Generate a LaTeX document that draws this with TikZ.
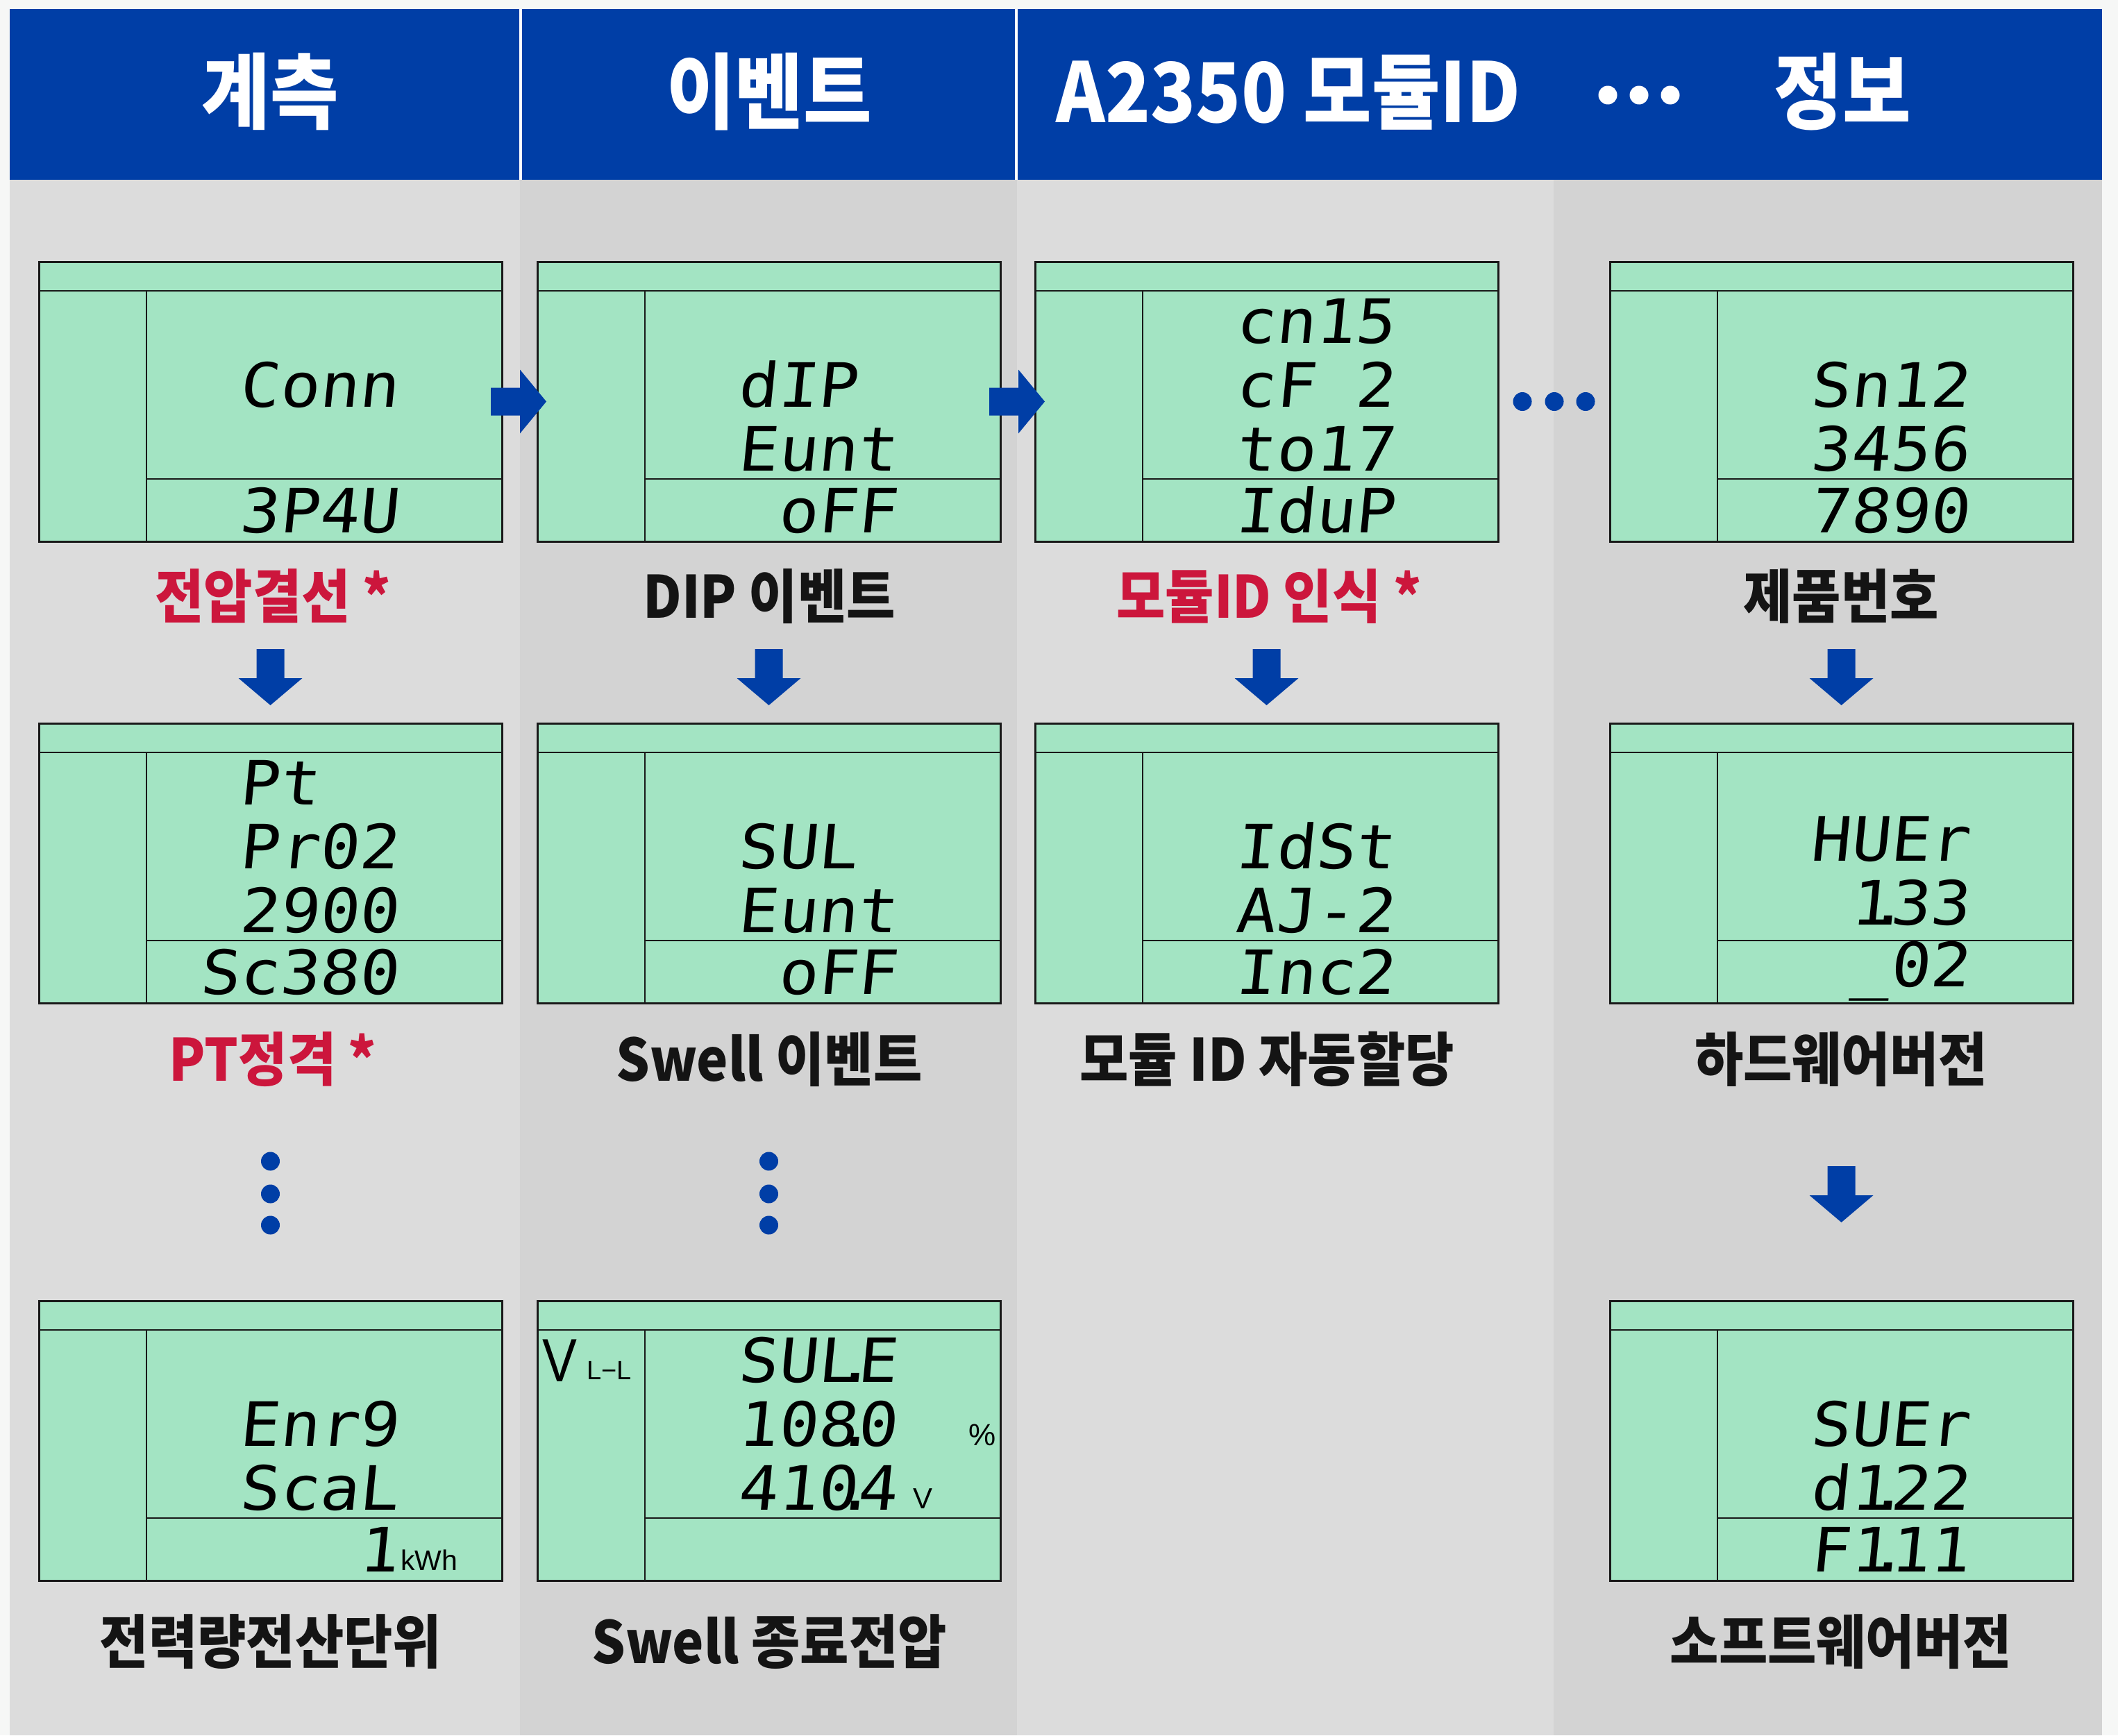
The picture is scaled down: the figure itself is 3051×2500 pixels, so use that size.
\documentclass[tikz,border=0pt]{standalone}
\usepackage{fontspec}
\usetikzlibrary{calc}
\newfontfamily\krfont[FakeStretch=0.91]{Noto Sans CJK KR}
\newfontfamily\hdrfont[FakeStretch=0.9]{Noto Sans CJK KR}
\newfontfamily\segfont[FakeStretch=1.08,FakeSlant=0.1]{DejaVu Sans Mono}
\newfontfamily\unitfont{Liberation Sans}
\newfontfamily\unitfontc[FakeStretch=0.85]{Liberation Sans}
\definecolor{hdrblue}{RGB}{0,62,166}
\definecolor{lcdgreen}{RGB}{163,228,195}
\definecolor{lblred}{RGB}{204,22,60}
\definecolor{colA}{RGB}{220,220,220}
\definecolor{colB}{RGB}{211,211,211}
\definecolor{pagebg}{RGB}{246,247,246}
\definecolor{lblblack}{RGB}{20,20,20}
\newcommand{\lcdpt}{\makebox[0pt]{\kern-0.08em.}}
\tikzset{
  lcdbox/.style={draw=black!90, line width=3pt, fill=lcdgreen, minimum width=667pt, minimum height=403pt, inner sep=0pt, outer sep=0pt, anchor=north west},
  lcdline/.style={draw=black!90, line width=2.6pt},
  segtext/.style={font=\segfont\fontsize{88}{88}\selectfont, text=black, inner sep=0pt, text height=64pt, text depth=0pt, anchor=base east},
  unittext/.style={font=\unitfont\fontsize{41}{43}\selectfont, text=black, inner sep=0pt, anchor=base west},
  lbl/.style={font=\krfont\bfseries\fontsize{84}{90}\selectfont, text=lblblack, inner sep=0pt, anchor=base},
  redlbl/.style={lbl, text=lblred},
  hdr/.style={font=\hdrfont\bfseries\fontsize{119}{125}\selectfont, text=white, inner sep=0pt, anchor=base},
  blk/.style={fill=hdrblue},
  dot/.style={circle, fill=hdrblue, minimum size=27pt, inner sep=0pt},
  hdot/.style={circle, fill=white, minimum size=27pt, inner sep=0pt}
}
\newcommand{\lcdpanel}[3]{%
  \node[lcdbox] (#1) at (#2,#3) {};
  \draw[lcdline] ($(#1.north west)+(0,42)$) -- ($(#1.north east)+(0,42)$);
  \draw[lcdline] ($(#1.north west)+(155,42)$) -- ($(#1.south west)+(155,0)$);
  \draw[lcdline] ($(#1.south west)+(155,-90)$) -- ($(#1.south east)+(0,-90)$);
}
\newcommand{\lcdtext}[4]{\node[segtext] (#1) at ($(#2.north west)+(518,#3)$) {#4};}
\newcommand{\blkrarrow}[1]{\fill[blk] ($(#1)+(-16,-20)$) -- ($(#1)+(26,-20)$) -- ($(#1)+(26,-46)$) -- ($(#1)+(64,0)$) -- ($(#1)+(26,46)$) -- ($(#1)+(26,20)$) -- ($(#1)+(-16,20)$) -- cycle;}
\newcommand{\blkdarrow}[1]{\fill[blk] ($(#1)+(-20,0)$) -- ($(#1)+(20,0)$) -- ($(#1)+(20,42)$) -- ($(#1)+(46,42)$) -- ($(#1)+(0,81)$) -- ($(#1)+(-46,42)$) -- ($(#1)+(-20,42)$) -- cycle;}
\begin{document}
\begin{tikzpicture}[x=1pt,y=-1pt]
\useasboundingbox (0,0) rectangle (3051,2500);
\fill[pagebg] (0,0) rectangle (3051,2500);
% columns
\fill[colA] (14,259) rectangle (749,2500);
\fill[colB] (749,259) rectangle (1465,2500);
\fill[colA] (1465,259) rectangle (2238,2500);
\fill[colB] (2238,259) rectangle (3028,2500);
% header
\fill[hdrblue] (14,13) rectangle (3028,259);
\fill[white] (748,13) rectangle (752,259);
\fill[white] (1462,13) rectangle (1466,259);
\node[hdr] (h1) at (389,176) {계측};
\node[hdr] (h2) at (1108,176) {이벤트};
\node[hdr] (h3) at (1856,176) {A2350 모듈ID};
\node[hdot] (hd1) at (2316,137) {};
\node[hdot] (hd2) at (2361,137) {};
\node[hdot] (hd3) at (2406,137) {};
\node[hdr] (h4) at (2654,176) {정보};
% row 1 panels
\lcdpanel{p11}{56}{377}
\lcdtext{t11b}{p11}{209}{Conn}
\lcdtext{t11c}{p11}{390}{3P4U}
\lcdpanel{p21}{774}{377}
\lcdtext{t21b}{p21}{209}{dIP\hphantom{0}}
\lcdtext{t21c}{p21}{301}{Eunt}
\lcdtext{t21d}{p21}{390}{oFF}
\lcdpanel{p31}{1491}{377}
\lcdtext{t31a}{p31}{117}{cn15}
\lcdtext{t31b}{p31}{209}{cF 2}
\lcdtext{t31c}{p31}{301}{to17}
\lcdtext{t31d}{p31}{390}{IduP}
\lcdpanel{p41}{2319}{377}
\lcdtext{t41b}{p41}{209}{Sn12}
\lcdtext{t41c}{p41}{301}{3456}
\lcdtext{t41d}{p41}{390}{7890}
% row 2 panels
\lcdpanel{p12}{56}{1042}
\lcdtext{t12a}{p12}{117}{Pt\hphantom{00}}
\lcdtext{t12b}{p12}{209}{Pr02}
\lcdtext{t12c}{p12}{301}{2900}
\lcdtext{t12d}{p12}{390}{Sc380}
\lcdpanel{p22}{774}{1042}
\lcdtext{t22b}{p22}{209}{SUL\hphantom{0}}
\lcdtext{t22c}{p22}{301}{Eunt}
\lcdtext{t22d}{p22}{390}{oFF}
\lcdpanel{p32}{1491}{1042}
\lcdtext{t32b}{p32}{209}{IdSt}
\lcdtext{t32c}{p32}{301}{AJ-2}
\lcdtext{t32d}{p32}{390}{Inc2}
\lcdpanel{p42}{2319}{1042}
\lcdtext{t42b}{p42}{198}{HUEr}
\lcdtext{t42c}{p42}{290}{1\lcdpt33}
\lcdtext{t42d}{p42}{379}{\_02}
% row 3 panels
\lcdpanel{p13}{56}{1874}
\lcdtext{t13b}{p13}{209}{Enr9}
\lcdtext{t13c}{p13}{301}{ScaL}
\lcdtext{t13d}{p13}{390}{1}
\node[unittext] (u13) at ($(p13.north west)+(521,388)$) {kWh};
\lcdpanel{p23}{774}{1874}
\lcdtext{t23a}{p23}{117}{SUL\lcdpt E}
\lcdtext{t23b}{p23}{209}{108\lcdpt0}
\lcdtext{t23c}{p23}{301}{410\lcdpt4}
\node[unittext, font=\unitfont\fontsize{44}{46}\selectfont] (u23a) at ($(p23.north west)+(621,208)$) {\%};
\node[unittext, font=\unitfont\fontsize{42}{44}\selectfont] (u23b) at ($(p23.north west)+(541,299)$) {V};
\node[unittext, font=\unitfontc\fontsize{88}{90}\selectfont] (u23c) at ($(p23.north west)+(7,116)$) {V};
\node[unittext, font=\unitfont\fontsize{38}{40}\selectfont] (u23d) at ($(p23.north west)+(71,113)$) {L−L};
\lcdpanel{p43}{2319}{1874}
\lcdtext{t43b}{p43}{209}{SUEr}
\lcdtext{t43c}{p43}{301}{d1\lcdpt22}
\lcdtext{t43d}{p43}{390}{F1\lcdpt11}
% labels
\node[redlbl] (l11) at (393,890) {전압결선 *};
\node[lbl] (l21) at (1108,890) {DIP 이벤트};
\node[redlbl] (l31) at (1828,890) {모듈ID 인식 *};
\node[lbl] (l41) at (2652,890) {제품번호};
\node[redlbl] (l12) at (393,1557) {PT정격 *};
\node[lbl] (l22) at (1108,1557) {Swell 이벤트};
\node[lbl] (l32) at (1825,1557) {모듈 ID 자동할당};
\node[lbl] (l42) at (2652,1557) {하드웨어버전};
\node[lbl] (l13) at (390,2396) {전력량전산단위};
\node[lbl] (l23) at (1108,2396) {Swell 종료전압};
\node[lbl] (l43) at (2652,2396) {소프트웨어버전};
% arrows
\coordinate (ra1) at (p11.east);
\coordinate (ra2) at (p21.east);
\blkrarrow{ra1}
\blkrarrow{ra2}
\coordinate (da1) at ($(p11.south)+(0,155)$);
\coordinate (da2) at ($(p21.south)+(0,155)$);
\coordinate (da3) at ($(p31.south)+(0,155)$);
\coordinate (da4) at ($(p41.south)+(0,155)$);
\coordinate (da5) at ($(p42.south)+(0,235)$);
\blkdarrow{da1}
\blkdarrow{da2}
\blkdarrow{da3}
\blkdarrow{da4}
\blkdarrow{da5}
% dots
\node[dot] (hx1) at ($(p31.east)+(35,0)$) {};
\node[dot] (hx2) at ($(p31.east)+(81,0)$) {};
\node[dot] (hx3) at ($(p31.east)+(126,0)$) {};
\node[dot] (va1) at ($(p12.south)+(0,228)$) {};
\node[dot] (va2) at ($(p12.south)+(0,275)$) {};
\node[dot] (va3) at ($(p12.south)+(0,320)$) {};
\node[dot] (vb1) at ($(p22.south)+(0,228)$) {};
\node[dot] (vb2) at ($(p22.south)+(0,275)$) {};
\node[dot] (vb3) at ($(p22.south)+(0,320)$) {};
\end{tikzpicture}
\end{document}
